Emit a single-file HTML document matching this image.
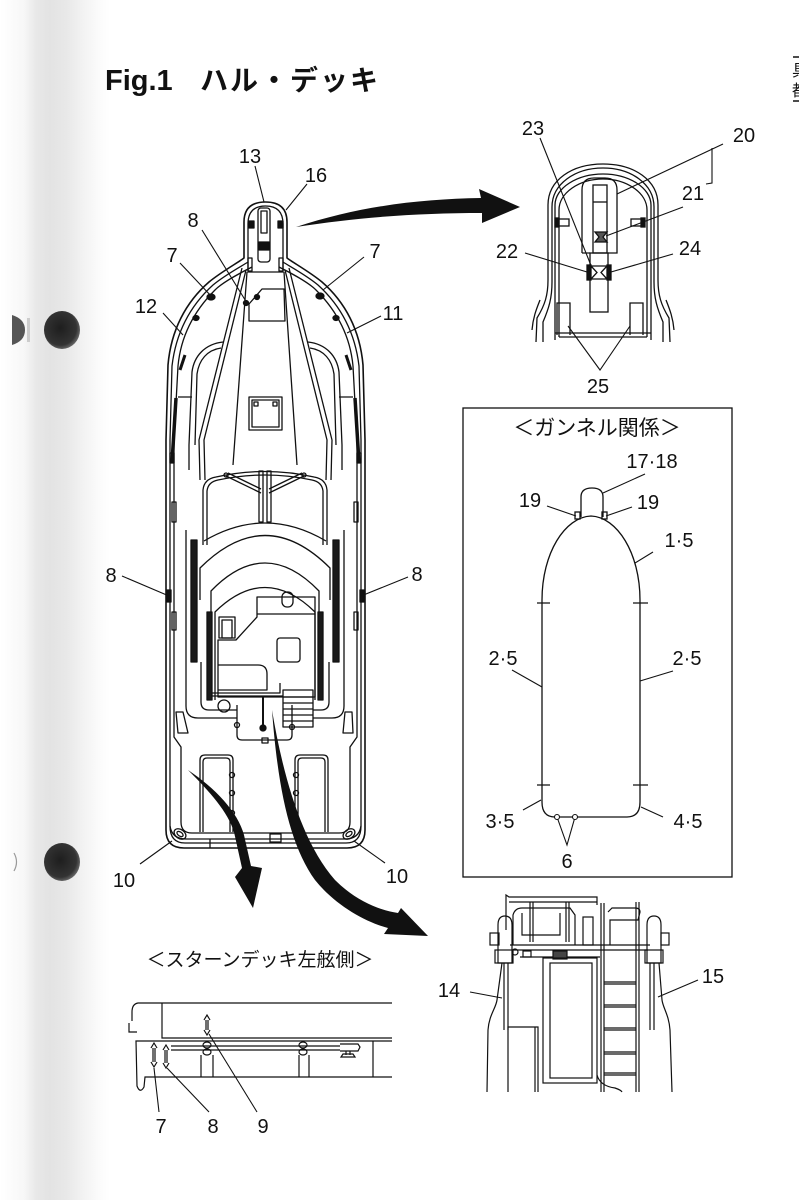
<!DOCTYPE html>
<html><head><meta charset="utf-8">
<style>
html,body{margin:0;padding:0;background:#fff;}
svg{display:block;}
text{font-family:"Liberation Sans","Noto Sans CJK JP",sans-serif;fill:#111;}
.lb{font-size:20px;text-anchor:middle;}
</style></head>
<body>
<svg width="799" height="1200" viewBox="0 0 799 1200" xmlns="http://www.w3.org/2000/svg">
<defs>
<linearGradient id="band" x1="0" x2="1" y1="0" y2="0">
<stop offset="0" stop-color="#ffffff"/>
<stop offset="0.22" stop-color="#f7f7f7"/>
<stop offset="0.33" stop-color="#e8e8e8"/>
<stop offset="0.45" stop-color="#e3e3e3"/>
<stop offset="0.6" stop-color="#e8e8e8"/>
<stop offset="0.75" stop-color="#f2f2f2"/>
<stop offset="0.9" stop-color="#fbfbfb"/>
<stop offset="1" stop-color="#ffffff"/>
</linearGradient>
<radialGradient id="hole" cx="0.45" cy="0.45" r="0.6">
<stop offset="0" stop-color="#1e1e1e"/>
<stop offset="0.75" stop-color="#333"/>
<stop offset="1" stop-color="#777"/>
</radialGradient>
</defs>
<rect width="799" height="1200" fill="#fff"/>
<rect x="0" y="0" width="110" height="1200" fill="url(#band)"/>

<!-- binder holes -->
<ellipse cx="62" cy="330" rx="18" ry="19" fill="url(#hole)"/>
<path d="M12 315 Q25 319 25 330 Q25 341 12 345 Z" fill="#555"/>
<rect x="27" y="318" width="3" height="24" fill="#ccc"/>
<ellipse cx="62" cy="862" rx="18" ry="19" fill="url(#hole)"/>
<path d="M14 853 Q19 862 14 871" fill="none" stroke="#999" stroke-width="1.2"/>

<!-- title -->
<text x="105" y="90" style="font-size:29px;font-weight:bold;">Fig.1</text>
<text x="200" y="90" style="font-size:28px;font-weight:bold;letter-spacing:2px;font-family:'Liberation Sans','Noto Sans CJK JP',sans-serif;">ハル・デッキ</text>

<!-- right edge fragment -->
<g stroke="#111" stroke-width="1.5"><line x1="793" y1="57" x2="799" y2="57"/><line x1="793" y1="101" x2="799" y2="101"/></g>
<text x="792" y="76" style="font-size:16px;">具</text>
<text x="792" y="96" style="font-size:16px;">都</text>

<!-- ===== MAIN BOAT ===== -->
<g fill="none" stroke="#111" stroke-width="1.3" stroke-linejoin="round">
<path d="M244 258 L244 222 Q244 202 265.5 202 Q287 202 287 222 L287 258 C292 262 310 272 322 282 C345 302 360 330 363 365 L365 440 L365 830 Q365 848 347 848 L184 848 Q166 848 166 830 L166 440 L168 365 C171 330 186 302 209 282 C221 272 239 262 244 258 Z" stroke-width="1.6"/>
<path d="M248 262 L248 224 Q248 206 265.5 206 Q283 206 283 224 L283 262 C289 266 306 275 318 285 C340 305 355 332 359 366 L361 440 L361 826 Q361 843 346 843 L185 843 Q170 843 170 826 L170 440 L172 366 C176 332 191 305 213 285 C225 275 242 266 248 262 Z"/>
<path d="M248 262 L248 272 L283 272 L283 262"/>
<path d="M252 267 C240 273 222 283 215 290 C196 309 181 334 178 366 L174 440 L174 737 L181 747 L181 822 Q181 833 192 833 L339 833 Q350 833 350 822 L350 747 L357 737 L357 440 L353 366 C350 334 335 309 316 290 C309 283 291 273 279 267"/>
<path d="M170 826 Q172 839 186 839 L345 839 Q359 839 361 826"/>
<!-- bow details -->
<rect x="258" y="208" width="12" height="54" rx="3"/>
<rect x="261" y="211" width="6" height="22"/>
<rect x="259" y="242" width="10" height="8" fill="#111"/>
<rect x="249" y="221" width="5" height="7" fill="#111"/>
<rect x="278" y="221" width="5" height="7" fill="#111"/>
<rect x="248" y="258" width="4" height="13"/>
<rect x="279" y="258" width="4" height="13"/>
<!-- foredeck lines -->
<path d="M247 272 L233 465 M284 272 L297 465"/>
<path d="M242 268 L199 440 L200 480 M246 270 L204 440 L205 480"/>
<path d="M289 268 L332 440 L331 480 M285 270 L327 440 L326 480"/>
<!-- forward hatch -->
<path d="M262 289 L284 289 L285 321 L249 321 L249 304 Z"/>
<circle cx="246" cy="303" r="2.5" fill="#111"/><circle cx="257" cy="297" r="2.5" fill="#111"/>
<!-- cleats 7 -->
<ellipse cx="211" cy="297" rx="4" ry="3" fill="#111"/>
<ellipse cx="320" cy="296" rx="4" ry="3" fill="#111"/>
<ellipse cx="196" cy="318" rx="3" ry="2.5" fill="#111"/>
<ellipse cx="336" cy="318" rx="3" ry="2.5" fill="#111"/>
<!-- forward side cutouts -->
<path d="M223 342 C205 344 194 356 192 372 L189 445 L189 470"/>
<path d="M221 348 C207 350 199 360 197 374 L195 445"/>
<path d="M308 342 C326 344 337 356 339 372 L342 445 L342 470"/>
<path d="M310 348 C324 350 332 360 334 374 L336 445"/>
<path d="M178 397 L192 397 M339 397 L353 397"/>
<!-- grab rails -->
<path d="M185 355 L180 370" stroke-width="3"/>
<path d="M346 355 L351 370" stroke-width="3"/>
<path d="M176 398 L172 463" stroke-width="3.5"/>
<path d="M355 398 L359 463" stroke-width="3.5"/>
<!-- square hatch -->
<rect x="249" y="397" width="33" height="33"/>
<rect x="252" y="400" width="27" height="27"/>
<rect x="254" y="402" width="4" height="4"/><rect x="273" y="402" width="4" height="4"/>
<!-- side small rects -->
<rect x="172" y="502" width="4" height="20"/><rect x="172" y="612" width="4" height="18"/>
<rect x="354" y="502" width="4" height="20"/><rect x="354" y="612" width="4" height="18"/>
<rect x="170" y="453" width="4" height="10"/><rect x="357" y="453" width="4" height="10"/>
<!-- side cleats 8 -->
<rect x="167" y="590" width="4" height="12" fill="#111"/>
<rect x="360" y="590" width="4" height="12" fill="#111"/>
<!-- windshield -->
<path d="M203 545 L203 490 Q204 479 216 477 Q265 466 314 477 Q326 479 327 490 L327 545"/>
<path d="M207 545 L207 491 Q208 482 218 480 Q265 470 312 480 Q322 482 323 491 L323 545"/>
<path d="M226 476 L261 493 M228 473 L261 489 M304 476 L269 493 M302 473 L269 489"/>
<circle cx="226" cy="475" r="2"/><circle cx="304" cy="475" r="2"/>
<rect x="259" y="471" width="4" height="51"/><rect x="267" y="471" width="4" height="51"/>
<path d="M204 541 Q265 505 326 541"/>
<path d="M200 600 L200 568 Q265 503 330 568 L330 600"/>
<path d="M211 612 L211 591 Q265 535 319 591 L319 612"/>
<path d="M215 700 L215 612 Q265 563 315 612 L315 700"/>
<!-- seats -->
<rect x="191" y="540" width="6" height="122" fill="#1a1a1a"/>
<rect x="333" y="540" width="6" height="122" fill="#1a1a1a"/>
<rect x="207" y="612" width="5" height="88" fill="#1a1a1a"/>
<rect x="318" y="612" width="5" height="88" fill="#1a1a1a"/>
<path d="M186 530 L186 706 Q186 718 198 718 L237 718"/>
<path d="M344 530 L344 706 Q344 718 332 718 L313 718"/>
<path d="M201 662 L201 702 Q201 710 209 710 L237 710"/>
<path d="M329 662 L329 702 Q329 710 321 710 L313 710"/>
<!-- console -->
<rect x="219" y="617" width="16" height="21"/>
<rect x="222" y="620" width="10" height="18"/>
<path d="M218 640 L236 640 L257 617 L257 597 L315 597 L315 697 L218 697 Z"/>
<path d="M257 614 L315 614"/>
<rect x="282" y="592" width="11" height="15" rx="5"/>
<rect x="277" y="638" width="23" height="24" rx="3"/>
<path d="M218 665 L258 665 Q267 665 267 674 L267 690 L218 690"/>
<path d="M212 693 L280 693 L280 683 M212 696 L283 696"/>
<circle cx="224" cy="706" r="6"/>
<!-- stairs -->
<rect x="283" y="690" width="30" height="37"/>
<path d="M283 697 L313 697 M283 703 L313 703 M283 709 L313 709 M283 715 L313 715 M283 721 L313 721"/>
<!-- lower box -->
<path d="M237 705 L237 735 Q237 740 242 740 L287 740 Q292 740 292 735 L292 705"/>
<path d="M263 697 L263 726" stroke-width="2"/>
<circle cx="263" cy="728" r="3" fill="#111"/>
<circle cx="237" cy="725" r="2.5"/><circle cx="292" cy="727" r="2.5"/>
<rect x="262" y="738" width="6" height="5"/>
<!-- parallelograms -->
<path d="M176 712 L183 712 L188 733 L178 733 Z"/>
<path d="M345 712 L352 712 L353 733 L343 733 Z"/>
<!-- fish boxes -->
<path d="M200 832 L200 760 Q200 755 205 755 L228 755 Q233 755 233 760 L233 832"/>
<path d="M203 832 L203 762 Q203 758 207 758 L226 758 Q230 758 230 762 L230 832"/>
<path d="M295 832 L295 760 Q295 755 300 755 L323 755 Q328 755 328 760 L328 832"/>
<path d="M298 832 L298 762 Q298 758 302 758 L321 758 Q325 758 325 762 L325 832"/>
<circle cx="232" cy="775" r="2.5"/><circle cx="232" cy="793" r="2.5"/><circle cx="232" cy="813" r="2.5"/>
<circle cx="296" cy="775" r="2.5"/><circle cx="296" cy="793" r="2.5"/>
<!-- stern cleats -->
<ellipse cx="180" cy="834" rx="6.5" ry="4.5" transform="rotate(35 180 834)"/>
<ellipse cx="180" cy="834" rx="3.5" ry="2" transform="rotate(35 180 834)"/>
<ellipse cx="349" cy="834" rx="6.5" ry="4.5" transform="rotate(-35 349 834)"/>
<ellipse cx="349" cy="834" rx="3.5" ry="2" transform="rotate(-35 349 834)"/>
<rect x="270" y="834" width="11" height="8"/>
<path d="M210 839 L210 848"/>
</g>

<!-- main boat leaders -->
<g stroke="#111" stroke-width="1.1" fill="none">
<path d="M255 166 L264 202"/>
<path d="M307 184 L286 210"/>
<path d="M202 230 L247 303"/>
<path d="M180 263 L212 297"/>
<path d="M364 257 L323 290"/>
<path d="M163 313 L183 335"/>
<path d="M381 316 L347 333"/>
<path d="M122 576 L169 596"/>
<path d="M408 577 L361 596"/>
<path d="M140 864 L172 841"/>
<path d="M385 863 L354 841"/>
</g>
<text class="lb" x="250" y="163">13</text>
<text class="lb" x="316" y="182">16</text>
<text class="lb" x="193" y="227">8</text>
<text class="lb" x="172" y="262">7</text>
<text class="lb" x="375" y="258">7</text>
<text class="lb" x="146" y="313">12</text>
<text class="lb" x="393" y="320">11</text>
<text class="lb" x="111" y="582">8</text>
<text class="lb" x="417" y="581">8</text>
<text class="lb" x="124" y="887">10</text>
<text class="lb" x="397" y="883">10</text>

<!-- big arrows -->
<path d="M296 227 C360 206 420 199 481 198 L479 189 L520 207 L482 223 L482 213 C420 213 360 217 296 227 Z" fill="#111"/>
<path d="M188 770 C215 788 238 812 244 835 L251 866 L262 868 L253 908 L235 877 L242 868 L234 832 C228 812 210 792 188 770 Z" fill="#111"/>
<path d="M272 710 C282 770 300 840 335 880 C355 900 378 910 398 913 L401 908 L428 936 L384 934 L388 928 C365 922 335 905 315 880 C290 845 278 790 272 710 Z" fill="#111"/>

<!-- ===== BOW INSET ===== -->
<g fill="none" stroke="#111" stroke-width="1.3">
<path d="M536 342 L537 318 C545 305 548 295 548 280 L548 205 C548 180 572 164 603 164 C634 164 658 180 658 205 L658 280 C658 295 661 305 669 318 L670 342"/>
<path d="M543 342 L543 322 C549 308 552 298 552 282 L552 207 C552 184 575 168 603 168 C631 168 654 184 654 207 L654 282 C654 298 657 308 663 322 L663 342"/>
<path d="M555 340 L555 205 C555 188 577 174 603 174 C629 174 651 188 651 205 L651 340"/>
<path d="M559 337 L559 210 C559 193 579 179 603 179 C627 179 647 193 647 210 L647 337"/>
<path d="M555 333 L651 333 M559 337 L647 337"/>
<path d="M540 300 C536 310 533 318 532 330 M666 300 C670 310 673 318 674 330"/>
<path d="M582 253 L582 190 Q582 178 594 178 L605 178 Q617 178 617 190 L617 253 L608 253 M582 253 L590 253"/>
<rect x="590" y="253" width="18" height="59"/>
<rect x="593" y="185" width="14" height="68"/>
<path d="M593 202 L607 202"/>
<path d="M595 232 L607 232 L603 237 L607 242 L595 242 L599 237 Z" fill="#555"/>
<rect x="587" y="265" width="4" height="15" fill="#111"/>
<rect x="607" y="265" width="4" height="15" fill="#111"/>
<path d="M591 266 L607 266 L601 272.5 L607 279 L591 279 L597 272.5 Z"/>
<rect x="557" y="219" width="12" height="7"/>
<rect x="555" y="218" width="4" height="9" fill="#111"/>
<rect x="631" y="219" width="12" height="7"/>
<rect x="641" y="218" width="4" height="9" fill="#111"/>
<path d="M557 335 L557 303 L570 303 L570 335 M643 335 L643 303 L630 303 L630 335"/>
</g>
<g stroke="#111" stroke-width="1.1" fill="none">
<path d="M540 138 L592 268"/>
<path d="M723 144 L617 194"/>
<path d="M712 148 L712 183 L706 184"/>
<path d="M683 207 L606 236"/>
<path d="M525 253 L587 272"/>
<path d="M673 254 L611 272"/>
<path d="M568 326 L600 370 L630 326"/>
</g>
<text class="lb" x="533" y="135">23</text>
<text class="lb" x="744" y="142">20</text>
<text class="lb" x="693" y="200">21</text>
<text class="lb" x="507" y="258">22</text>
<text class="lb" x="690" y="255">24</text>
<text class="lb" x="598" y="393">25</text>

<!-- ===== GUNWALE BOX ===== -->
<rect x="463" y="408" width="269" height="469" fill="none" stroke="#111" stroke-width="1.3"/>
<text x="597" y="435" style="font-size:21px;text-anchor:middle;">＜ガンネル関係＞</text>
<g fill="none" stroke="#111" stroke-width="1.3">
<path d="M542 600 C542 553 565 517 591 516 C617 517 640 553 640 600 L640 802 Q640 817 627 817 L555 817 Q542 817 542 802 Z"/>
<path d="M581 517 L581 497 Q581 488 592 488 Q603 488 603 497 L603 517"/>
<rect x="575" y="512" width="5" height="7"/>
<rect x="602" y="512" width="5" height="7"/>
<path d="M537 603 L550 603 M633 603 L648 603 M537 785 L550 785 M633 785 L648 785"/>
</g>
<g stroke="#111" stroke-width="1.1" fill="none">
<path d="M557 817 L567 845 L575 817"/>
<path d="M645 474 L603 493"/>
<path d="M547 506 L576 516"/>
<path d="M632 507 L606 516"/>
<path d="M653 552 L635 563"/>
<path d="M512 670 L542 687"/>
<path d="M673 671 L640 681"/>
<path d="M523 810 L541 800"/>
<path d="M663 817 L641 807"/>
</g>
<circle cx="557" cy="817" r="2.5" fill="#fff" stroke="#111" stroke-width="1.1"/>
<circle cx="575" cy="817" r="2.5" fill="#fff" stroke="#111" stroke-width="1.1"/>
<text class="lb" x="652" y="468">17·18</text>
<text class="lb" x="530" y="507">19</text>
<text class="lb" x="648" y="509">19</text>
<text class="lb" x="679" y="547">1·5</text>
<text class="lb" x="503" y="665">2·5</text>
<text class="lb" x="687" y="665">2·5</text>
<text class="lb" x="500" y="828">3·5</text>
<text class="lb" x="688" y="828">4·5</text>
<text class="lb" x="567" y="868">6</text>

<!-- ===== STERN DECK SIDE VIEW ===== -->
<text x="260" y="966" style="font-size:19px;text-anchor:middle;">＜スターンデッキ左舷側＞</text>
<g fill="none" stroke="#111" stroke-width="1.2">
<path d="M392 1003 L138 1003 Q132 1004 132 1012 L132 1021"/>
<path d="M129 1023 L129 1032 L137 1032"/>
<path d="M162 1003 L162 1038 L392 1038"/>
<path d="M392 1041 L136 1041 L137 1086 Q140 1094 144 1087 L145 1077 L392 1077"/>
<path d="M171 1046 L340 1046 M171 1050 L340 1050 M340 1044 L358 1044 L360 1047 L358 1051 L340 1051"/>
<path d="M346 1051 L346 1055 M350 1051 L350 1055 M341 1057 L355 1057 L353 1054 L343 1054 Z"/>
<ellipse cx="207" cy="1045" rx="4" ry="3"/><ellipse cx="207" cy="1052" rx="4" ry="3"/>
<ellipse cx="303" cy="1045" rx="4" ry="3"/><ellipse cx="303" cy="1052" rx="4" ry="3"/>
<path d="M201 1055 L201 1077 M213 1055 L213 1077 M299 1055 L299 1077 M309 1055 L309 1077 M373 1041 L373 1077"/>
<!-- double arrows -->
<path d="M153 1048 L153 1062 M155 1048 L155 1062 M151 1048 L154 1043 L157 1048 M151 1062 L154 1067 L157 1062"/>
<path d="M165 1050 L165 1063 M167 1050 L167 1063 M163 1050 L166 1045 L169 1050 M163 1063 L166 1068 L169 1063"/>
<path d="M206 1020 L206 1030 M208 1020 L208 1030 M204 1020 L207 1015 L210 1020 M204 1030 L207 1035 L210 1030"/>
</g>
<g stroke="#111" stroke-width="1.1" fill="none">
<path d="M159 1112 L154 1068"/>
<path d="M209 1112 L167 1068"/>
<path d="M257 1112 L209 1034"/>
</g>
<text class="lb" x="161" y="1133">7</text>
<text class="lb" x="213" y="1133">8</text>
<text class="lb" x="263" y="1133">9</text>

<!-- ===== STERN VIEW ===== -->
<g fill="none" stroke="#111" stroke-width="1.2">
<path d="M487 1092 L488 1030 C489 1015 496 1008 497 1000 L502 963"/>
<path d="M672 1092 L670 1030 C669 1015 663 1008 662 1000 L659 963"/>
<path d="M506 930 L506 895 L509 897 L597 897 L597 905"/>
<path d="M509 902 L597 902"/>
<path d="M530 902 L530 942 M533 902 L533 942 M566 902 L566 942 M569 902 L569 942"/>
<path d="M513 945 L513 915 Q515 908 522 908 L570 908 L575 915 L575 945"/>
<path d="M522 913 L522 935 L560 935 L560 913"/>
<rect x="583" y="917" width="10" height="28"/>
<path d="M610 945 L610 920 L638 920 L640 912 Q640 908 635 908 L612 908 L608 912"/>
<path d="M510 945 L650 945 M512 950 L648 950 M520 957 L600 957"/>
<circle cx="515" cy="952" r="3"/>
<rect x="523" y="951" width="8" height="6"/>
<rect x="553" y="951" width="14" height="8" fill="#444"/>
<rect x="543" y="958" width="54" height="125"/>
<rect x="550" y="963" width="42" height="115"/>
<path d="M601 903 L601 1092 M604 903 L604 1092 M636 902 L636 1092 M639 902 L639 1092"/>
<path d="M604 982 L636 982 M604 984 L636 984 M604 1005 L636 1005 M604 1007 L636 1007 M604 1028 L636 1028 M604 1030 L636 1030 M604 1052 L636 1052 M604 1054 L636 1054 M604 1073 L636 1073 M604 1075 L636 1075"/>
<path d="M498 963 L498 925 Q498 916 505 916 Q512 916 512 925 L512 963 Z"/>
<rect x="490" y="933" width="9" height="12"/>
<rect x="495" y="950" width="18" height="13"/>
<path d="M647 963 L647 925 Q647 916 654 916 Q661 916 661 925 L661 963 Z"/>
<rect x="661" y="933" width="8" height="12"/>
<rect x="645" y="950" width="18" height="13"/>
<path d="M504 963 L504 1030 M508 963 L508 1030 M650 963 L650 1030 M654 963 L654 1030"/>
<path d="M508 1092 L508 1027 L538 1027 L538 1092 M535 1027 L535 1092"/>
<path d="M597 1075 Q600 1086 615 1088 Q621 1090 622 1092"/>
</g>
<g stroke="#111" stroke-width="1.1" fill="none">
<path d="M470 992 L502 998"/>
<path d="M698 980 L658 997"/>
</g>
<text class="lb" x="449" y="997">14</text>
<text class="lb" x="713" y="983">15</text>
</svg>
</body></html>
